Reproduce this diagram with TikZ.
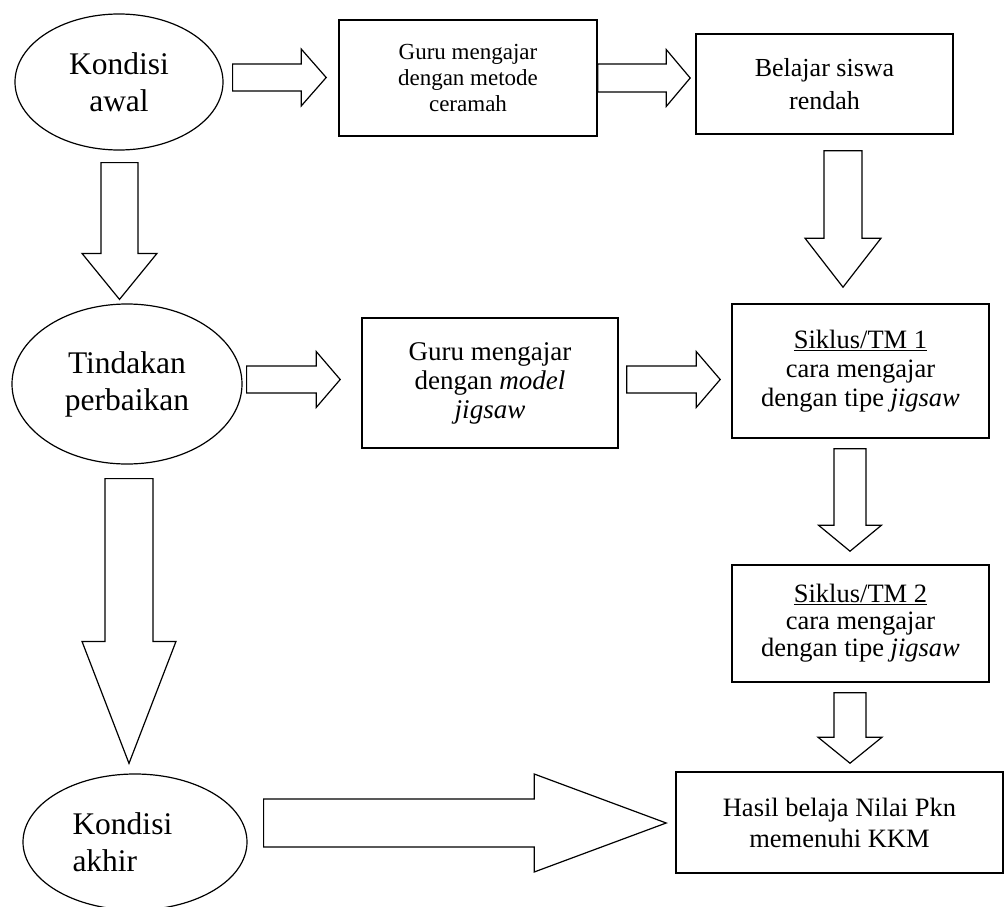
\documentclass[tikz,border=0pt]{standalone}
\usepackage{fontspec}
\setmainfont{Liberation Serif}
\usetikzlibrary{shapes.geometric}
\usetikzlibrary{calc}
\tikzset{
    state/.style={ellipse, draw, line width=1.2pt, align=center, inner sep=1pt, font=\fontsize{31.5}{37}\selectfont},
    stepbox/.style={rectangle, draw, line width=1.6pt, align=center, inner sep=2pt},
    blockarrow/.style={draw, line width=1.2pt, fill=white, line join=miter}
}
% #1 start, #2 tip, #3 half shaft, #4 half head, #5 head length
\newcommand{\rightblock}[5]{%
  \coordinate (blkend) at (#1 -| #2);
  \draw[blockarrow] ($(#1)+(0,-#3)$) -- ($(blkend)+(-#5,-#3)$) -- ($(blkend)+(-#5,-#4)$) -- (blkend)
    -- ($(blkend)+(-#5,#4)$) -- ($(blkend)+(-#5,#3)$) -- ($(#1)+(0,#3)$) -- cycle;}
\newcommand{\downblock}[5]{%
  \coordinate (blkend) at (#1 |- #2);
  \draw[blockarrow] ($(#1)+(-#3,0)$) -- ($(blkend)+(-#3,-#5)$) -- ($(blkend)+(-#4,-#5)$) -- (blkend)
    -- ($(blkend)+(#4,-#5)$) -- ($(blkend)+(#3,-#5)$) -- ($(#1)+(#3,0)$) -- cycle;}

\begin{document}
\begin{tikzpicture}[x=1pt, y=-1pt]
\useasboundingbox (0,0) rectangle (1005,907);

% kondisi
\node[state, minimum width=208pt, minimum height=136pt] (awal) at (119,82) {Kondisi\\awal};
\node[state, minimum width=230pt, minimum height=160pt] (tindakan) at (127,384) {Tindakan\\perbaikan};
\node[state, minimum width=224pt, minimum height=136pt, align=left, text width=125pt] (akhir) at (135,842) {Kondisi\\akhir};

% kotak
\node[stepbox, minimum width=258pt, minimum height=116pt, font=\fontsize{23}{26}\selectfont] (ceramah) at (468,78) {Guru mengajar\\dengan metode\\ceramah};
\node[stepbox, minimum width=257pt, minimum height=100pt, font=\fontsize{26}{33}\selectfont] (rendah) at (824.5,84) {Belajar siswa\\rendah};
\node[stepbox, minimum width=256pt, minimum height=130pt, font=\fontsize{27}{29}\selectfont] (model) at (490,383) {Guru mengajar\\dengan \textit{model}\\\textit{jigsaw}};
\node[stepbox, minimum width=257pt, minimum height=134pt, font=\fontsize{26.5}{29}\selectfont] (tm1) at (860.5,371) {\underline{Siklus/TM 1}\\cara mengajar\\dengan tipe \textit{jigsaw}};
\node[stepbox, minimum width=257pt, minimum height=117pt, font=\fontsize{26.5}{27}\selectfont] (tm2) at (860.5,623.5) {\underline{Siklus/TM 2}\\cara mengajar\\dengan tipe \textit{jigsaw}};
\node[stepbox, minimum width=327pt, minimum height=101pt, font=\fontsize{26.5}{31}\selectfont] (hasil) at (839.5,822.5) {Hasil belaja Nilai Pkn\\memenuhi KKM};

% panah
\coordinate (a1s) at ($(awal.east)+(9,-4.5)$);
\coordinate (a1e) at ($(ceramah.west)+(-12,0)$);
\rightblock{a1s}{a1e}{13.5}{28.5}{25}
\coordinate (a2e) at ($(rendah.west)+(-5,0)$);
\rightblock{ceramah.east}{a2e}{14}{28.5}{24}
\coordinate (a3s) at ($(tindakan.east)+(4,-4.5)$);
\coordinate (a3e) at ($(model.west)+(-21,0)$);
\rightblock{a3s}{a3e}{13.5}{28}{24}
\coordinate (a4s) at ($(model.east)+(8,-3.5)$);
\coordinate (a4e) at ($(tm1.west)+(-11,0)$);
\rightblock{a4s}{a4e}{13.5}{28}{24}

\coordinate (d1s) at ($(awal.south)+(0.5,12)$);
\coordinate (d1e) at ($(tindakan.north)+(0,-4)$);
\downblock{d1s}{d1e}{18.5}{37.5}{46}
\coordinate (d2s) at ($(rendah.south)+(18.5,16)$);
\coordinate (d2e) at ($(tm1.north)+(0,-16)$);
\downblock{d2s}{d2e}{19}{38}{49}
\coordinate (d3s) at ($(tm1.south)+(-10.5,10)$);
\coordinate (d3e) at ($(tm2.north)+(0,-13)$);
\downblock{d3s}{d3e}{16}{31.5}{26}
\coordinate (d4s) at ($(tm2.south)+(-10.5,10)$);
\coordinate (d4e) at ($(hasil.north)+(0,-8)$);
\downblock{d4s}{d4e}{16}{32}{26}
\coordinate (d5s) at ($(tindakan.south)+(2,14)$);
\coordinate (d5e) at ($(akhir.north)+(0,-10)$);
\downblock{d5s}{d5e}{24}{47}{122}

\coordinate (a5s) at ($(akhir.east)+(16,-19)$);
\coordinate (a5e) at ($(hasil.west)+(-9,0)$);
\rightblock{a5s}{a5e}{24}{49}{132}

\end{tikzpicture}
\end{document}
